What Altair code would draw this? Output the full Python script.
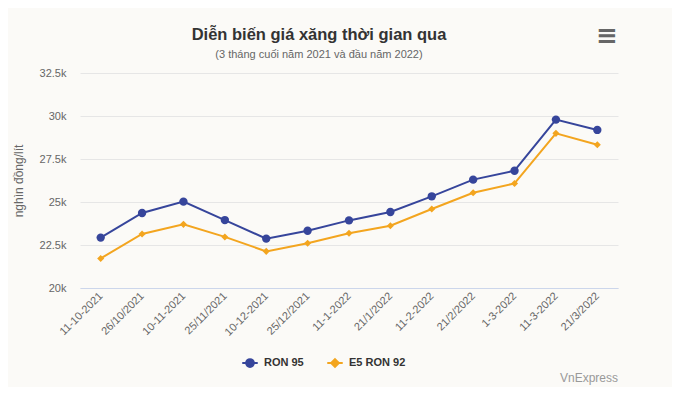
import altair as alt
import pandas as pd

dates = ["11-10-2021", "26/10/2021", "10-11-2021", "25/11/2021", "10-12-2021",
         "25/12/2021", "11-1-2022", "21/1/2022", "11-2-2022", "21/2/2022",
         "1-3-2022", "11-3-2022", "21/3/2022"]
ron95 = [22930, 24360, 25020, 23950, 22870, 23330, 23930, 24420, 25330, 26300, 26820, 29790, 29190]
e5ron92 = [21720, 23140, 23700, 22970, 22130, 22600, 23180, 23620, 24590, 25540, 26080, 28990, 28330]
series = ["RON 95", "E5 RON 92"]
colors = ["#36459b", "#f3a51f"]
markers = ["circle", "diamond"]
y_ticks = [20000, 22500, 25000, 27500, 30000, 32500]
title = "Diễn biến giá xăng thời gian qua"
subtitle = "(3 tháng cuối năm 2021 và đầu năm 2022)"
y_title = "nghìn đồng/lít"
credit = "VnExpress"

df = pd.DataFrame({
    "date": dates * 2,
    "price": ron95 + e5ron92,
    "series": [series[0]] * len(dates) + [series[1]] * len(dates),
})

FONT = "Liberation Sans"

x_enc = alt.X("date:N", sort=dates, title=None,
              scale=alt.Scale(type="point", padding=0.5),
              axis=alt.Axis(labelAngle=-45, labelAlign="right", labelBaseline="middle",
                            labelPadding=6, ticks=False, grid=False,
                            domainColor="#ccd6eb", labelColor="#666", labelFontSize=11,
                            labelFont=FONT))
y_enc = alt.Y("price:Q", title=y_title,
              scale=alt.Scale(domain=[20000, 32500], nice=False, zero=False),
              axis=alt.Axis(values=y_ticks, format=".3~s", domain=False, ticks=False,
                            gridColor="#e6e6e6", labelColor="#666", labelFontSize=11,
                            labelFont=FONT, labelPadding=14, titleColor="#666",
                            titleFont=FONT, titleFontSize=12, titleFontWeight="normal",
                            titlePadding=14))
color_scale = alt.Scale(domain=series, range=colors)

base = alt.Chart(df)
layers = []
for name, col, mk in zip(series, colors, markers):
    sub = base.transform_filter(alt.datum.series == name)
    layers.append(sub.mark_line(strokeWidth=2, color=col).encode(x=x_enc, y=y_enc))
for name, col, mk in zip(series, colors, markers):
    sub = base.transform_filter(alt.datum.series == name)
    layers.append(sub.mark_point(filled=True, opacity=1, shape=mk, color=col,
                                 size=70 if mk == "circle" else 50).encode(x=x_enc, y=y_enc))

leg_paths = ["M-1,0H1M-0.5,0A0.5,0.5 0 1,1 0.5,0A0.5,0.5 0 1,1 -0.5,0Z",
             "M-1,0H1M0,-0.5L0.5,0L0,0.5L-0.5,0Z"]
legend = alt.Legend(title=None, orient="none", legendX=161, legendY=281,
                    direction="horizontal", symbolSize=240, symbolStrokeWidth=2,
                    symbolOpacity=1, labelFont=FONT, labelFontSize=11,
                    labelFontWeight="bold", labelColor="#333", labelOffset=5,
                    columnPadding=19)
leg_layer = base.transform_filter("false").mark_point(filled=True).encode(
    x=x_enc, y=y_enc,
    fill=alt.Fill("series:N", scale=color_scale, legend=legend),
    stroke=alt.Stroke("series:N", scale=color_scale, legend=legend),
    shape=alt.Shape("series:N", scale=alt.Scale(domain=series, range=leg_paths), legend=legend))
layers.append(leg_layer)

layers.append(alt.Chart(pd.DataFrame({"t": [title]})).mark_text(
    align="center", baseline="alphabetic", font=FONT, fontSize=16.5, fontWeight="bold",
    color="#333").encode(x=alt.value(239), y=alt.value(-33), text="t:N"))
layers.append(alt.Chart(pd.DataFrame({"t": [subtitle]})).mark_text(
    align="center", baseline="alphabetic", font=FONT, fontSize=11,
    color="#666").encode(x=alt.value(239), y=alt.value(-15), text="t:N"))
layers.append(alt.Chart(pd.DataFrame({"t": [credit]})).mark_text(
    align="right", baseline="alphabetic", font=FONT, fontSize=12, color="#999").encode(
    x=alt.value(538), y=alt.value(309), text="t:N"))
layers.append(alt.Chart(pd.DataFrame({"t": ["≡"]})).mark_text(
    align="center", baseline="middle", font="DejaVu Sans", fontSize=26, fontWeight="bold",
    color="#666").encode(x=alt.value(527), y=alt.value(-37), text="t:N"))

chart = alt.layer(*layers).properties(
    width=538, height=215,
    autosize=alt.AutoSizeParams(type="none"),
    padding={"left": 72, "top": 65, "right": 54, "bottom": 99},
    background="#fbfaf7",
).configure_view(stroke=None)

chart.save("out.html", embed_options={"renderer": "svg", "actions": False})
